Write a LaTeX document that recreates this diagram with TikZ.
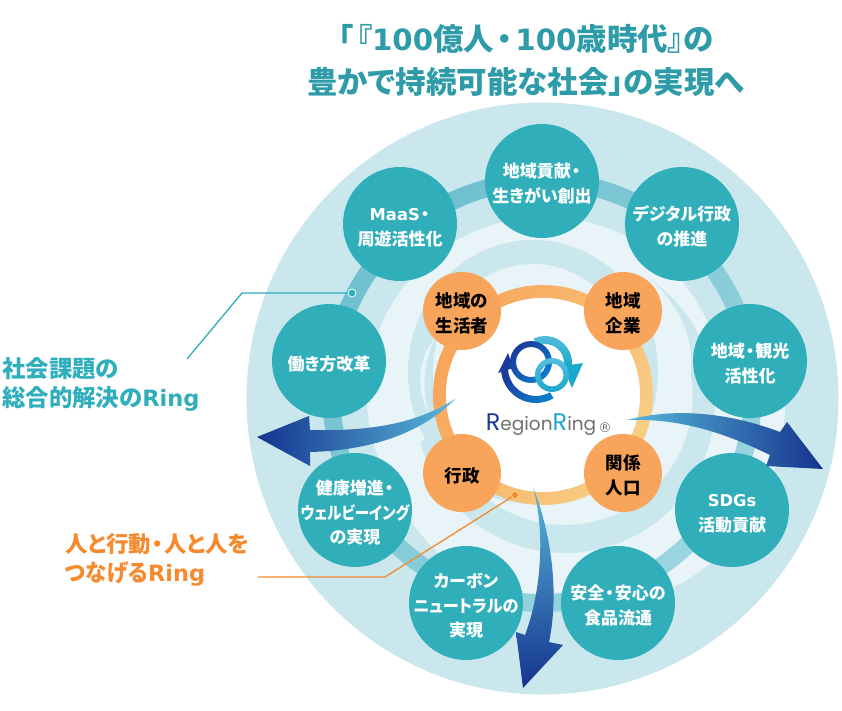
\documentclass[tikz,border=0pt]{standalone}
\usepackage{fontspec}
\setmainfont{Noto Sans CJK JP}[RawFeature={+palt}]
\newfontfamily\lat{DejaVu Sans}[Scale=0.96]
\newfontfamily\logofont{Poppins}
\definecolor{bigc}{HTML}{CAE7ED}
\definecolor{lightc}{HTML}{E8F4F7}
\definecolor{tealc}{HTML}{30AFBB}
\definecolor{orgc}{HTML}{F8A55B}
\definecolor{yelc}{HTML}{F8CE85}
\definecolor{titlec}{HTML}{2E9BA8}
\definecolor{labt}{HTML}{2FAEBB}
\definecolor{labo}{HTML}{F58A2E}
\definecolor{navyc}{HTML}{15338F}
\definecolor{midc}{HTML}{3A8DC0}
\definecolor{skyc}{HTML}{58B8DA}
\definecolor{orbA}{HTML}{6FC0D0}
\definecolor{orbB}{HTML}{9AD5DF}
\definecolor{logoA}{HTML}{1A3A9C}
\definecolor{logoB}{HTML}{0E7CCB}
\definecolor{logoC}{HTML}{58BEDD}
\definecolor{logoD}{HTML}{1BA8CC}
\definecolor{logoG}{HTML}{707070}
\newcommand{\nd}{\kern1pt ・\kern1pt}
\newcommand{\TT}{\rule{0pt}{20pt}}
\newcommand{\ringarc}[6]{(#1,#2)++(#5:#4pt) arc (#5:#6:#4pt) -- ++(#6:#3pt-#4pt) arc (#6:#5:#3pt) -- cycle}
\tikzset{
 x=1pt,y=1pt,
 tnode/.style={circle,minimum size=114pt,inner sep=-20pt,fill=tealc,text=white,align=center,
   font=\fontsize{17}{24.5}\selectfont\bfseries},
 onode/.style={circle,minimum size=78pt,inner sep=-10pt,fill=orgc,text=black,align=center,
   font=\fontsize{17.5}{24.5}\selectfont\bfseries},
 titletext/.style={text=titlec,font=\fontsize{30.5}{43}\selectfont\bfseries,align=center,inner sep=0pt},
 lab/.style={font=\fontsize{23.4}{29}\selectfont\bfseries,align=left,inner sep=0pt},
 leader/.style={line width=1.3pt},
}
\begin{document}
\begin{tikzpicture}
\useasboundingbox (0,-711) rectangle (842,0);
\fill[white] (0,-711) rectangle (842,0);
% background discs
\fill[bigc] (542.5,-398.5) circle (296pt);
\fill[lightc] (545,-395) circle (178pt);
\begin{scope}
 \clip (0,-360) rectangle (842,-711);
 \fill[lightc] (580,-405) circle (205pt);
\end{scope}
% swoosh band
\fill[bigc] (533,-372) ellipse (125pt and 132pt);
\fill[lightc] (533,-372) ellipse (100pt and 108pt);
\fill[bigc] (565,-403)++(55:150pt) arc (55:-165:150pt) -- (441,-430) arc (-165:10:128pt)
  .. controls (695,-340) and (680,-305) .. (651,-280) -- cycle;
\fill[lightc] (438,-335) .. controls (420,-352) and (414,-385) .. (428,-412) .. controls (421,-385) and (425,-352) .. cycle;
% orbit ring
\shade[even odd rule,left color=orbA,right color=orbB,shading angle=45] (542,-392) circle (220pt) (542,-392) circle (202pt);
% teal nodes
\node[tnode] (n1) at (542,-181) {\TT 地域貢献\nd\\生きがい創出};
\node[tnode] (n2) at (682,-224) {\TT デジタル行政\\の推進};
\node[tnode] (n3) at (750,-361) {\TT 地域\nd 観光\\活性化};
\node[tnode] (n4) at (732,-510) {\TT{\lat SDGs}\\活動貢献};
\node[tnode] (n5) at (618,-603) {\TT 安全\nd 安心の\\食品流通};
\node[tnode] (n6) at (466,-603) {\TT カーボン\\\scalebox{.95}[1]{ニュートラルの}\\実現};
\node[tnode] (n7) at (355,-510) {\TT 健康増進\nd\\\scalebox{.86}[1]{ウェルビーイング}\\の実現};
\node[tnode] (n8) at (329,-361) {\TT 働き方改革};
\node[tnode] (n9) at (400,-224) {\TT{\lat MaaS}\nd\\周遊活性化};
% orange ring
\shade[even odd rule,left color=orgc,middle color=orgc,right color=yelc,shading angle=60] (543,-395) circle (110pt) (543,-395) circle (97pt);
\fill[white] (543,-395) circle (97pt);
\node[onode] (o1) at (462,-311) {\TT 地域の\\生活者};
\node[onode] (o2) at (623,-311) {\TT 地域\\企業};
\node[onode] (o3) at (462,-473) {\TT 行政};
\node[onode] (o4) at (623,-473) {\TT 関係\\人口};
% logo
\shade[top color=logoC,bottom color=logoD] \ringarc{545}{-363}{19}{27}{115}{-8};
\fill[logoD] (563,-366) -- (583,-363) -- (572,-388) -- cycle;
\shade[left color=logoA,right color=logoB,shading angle=45] \ringarc{536}{-368}{28}{35}{178}{300};
\fill[logoA] (498,-373) -- (508,-353) -- (513,-368) -- cycle;
\shade[even odd rule,left color=logoA,right color=logoB,shading angle=45] (531,-362) circle (21pt) (531,-362) circle (15pt);
\shade[even odd rule,top color=logoC,bottom color=logoD] (552,-375) circle (17pt) (552,-375) circle (11.5pt);
\node[inner sep=0pt,anchor=base] (logotext) at (541,-430) {\logofont\fontsize{18.5}{20}\selectfont\color{logoG}{\fontsize{24}{24}\selectfont\color{logoA}R}egion{\fontsize{24}{24}\selectfont\color{logoD}R}ing};
\node[inner sep=0pt] (regmark) at (605,-428) {\lat\fontsize{14}{14}\selectfont\color{logoG}®};
% arrows
\shade[left color=navyc,middle color=midc,right color=skyc]
 (257,-437) -- (309,-416) -- (310,-430) .. controls (385,-432) and (425,-418) .. (455,-399)
 .. controls (430,-425) and (385,-450) .. (310,-452) -- (310,-466) -- cycle;
\shade[left color=skyc,middle color=midc,right color=navyc]
 (627,-420) .. controls (680,-406) and (735,-415) .. (780,-432) -- (787,-422) -- (823,-469) -- (766,-466) -- (770,-455)
 .. controls (725,-433) and (680,-418) .. cycle;
\shade[top color=skyc,middle color=midc,bottom color=navyc]
 (533,-487) .. controls (550,-530) and (560,-590) .. (549,-642) -- (563,-645) -- (523,-688) -- (516,-632) -- (525,-635)
 .. controls (542,-590) and (545,-530) .. cycle;
% leaders
\node[circle,fill=labt,draw=white,line width=.8pt,minimum size=8pt,inner sep=0pt] (tdot) at (352,-293) {};
\coordinate (t1) at (187,-359);
\coordinate (t2) at (242,-293);
\draw[leader,labt] (t1) -- (t2) -- (tdot);
\node[circle,fill=labo,draw=yelc,line width=.8pt,minimum size=7pt,inner sep=0pt] (odot) at (515,-495) {};
\coordinate (l1) at (258,-577);
\coordinate (l2) at (385,-577);
\draw[leader,labo] (l1) -- (l2) -- (odot);
% labels
\node[titletext] (title) at (526,-60.5) {「\kern3pt『{\lat 100}億人\kern2pt\nd\kern2pt{\lat 100}歳時代』の\\豊かで持続可能な社会」の実現へ};
\node[lab,text=labt,anchor=west] (lt) at (2,-384) {社会課題の\\総合的解決の{\lat Ring}};
\node[lab,text=labo,anchor=west] (lo) at (65,-560) {\fontsize{22.4}{29}\selectfont 人と行動\nd 人と人を\\\scalebox{.92}[1]{つなげる}{\lat Ring}};
\end{tikzpicture}
\end{document}
